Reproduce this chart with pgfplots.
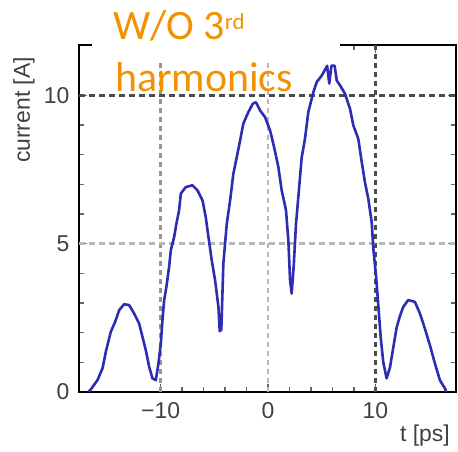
\documentclass[border=0pt]{standalone}
\usepackage{fontspec}
\setmainfont{Liberation Sans}
\newfontfamily\titlefont{Carlito}
\usepackage{pgfplots}
\pgfplotsset{compat=1.18}
\definecolor{labelgray}{HTML}{404040}
\definecolor{curveblue}{RGB}{45,45,180}
\definecolor{titleorange}{HTML}{F39200}
\pgfplotstableread{
x y
-16.75 0.00
-16.49 0.09
-15.88 0.40
-15.41 0.80
-15.10 1.36
-14.64 2.03
-14.23 2.37
-13.86 2.76
-13.40 2.96
-12.93 2.93
-12.47 2.65
-12.00 2.31
-11.69 1.86
-11.38 1.41
-11.07 0.85
-10.76 0.46
-10.45 0.40
-10.20 0.97
-9.98 1.64
-9.83 2.42
-9.67 3.10
-9.46 3.55
-9.21 4.22
-9.05 4.78
-8.74 5.23
-8.53 5.68
-8.28 6.13
-8.12 6.69
-7.66 6.91
-7.04 6.97
-6.57 6.80
-6.10 6.46
-5.80 5.90
-5.55 5.23
-5.24 4.44
-4.93 3.77
-4.62 2.87
-4.50 2.05
-4.35 2.10
-4.16 4.33
-3.84 5.68
-3.53 6.46
-3.23 7.36
-2.91 7.92
-2.60 8.48
-2.30 9.05
-1.83 9.44
-1.42 9.72
-1.12 9.77
-0.74 9.49
-0.28 9.27
0.19 8.82
0.56 8.26
0.96 7.59
1.27 6.80
1.67 6.13
1.89 5.12
2.05 3.77
2.20 3.32
2.40 4.30
2.60 5.65
2.85 6.70
3.13 7.90
3.44 8.54
3.75 9.44
4.22 10.11
4.53 10.45
5.00 10.67
5.20 10.80
5.50 11.00
5.70 10.40
5.90 11.00
6.20 11.00
6.40 10.50
6.70 10.34
7.16 10.06
7.63 9.55
7.94 8.99
8.40 8.54
8.72 7.76
9.02 7.08
9.33 6.52
9.65 5.73
9.80 4.84
10.05 3.94
10.26 2.95
10.50 1.80
10.73 1.00
11.04 0.46
11.35 0.82
11.66 1.50
11.97 2.17
12.28 2.56
12.59 2.87
13.05 3.10
13.67 3.04
14.14 2.65
14.60 2.14
15.07 1.58
15.53 0.97
16.00 0.40
16.47 0.12
16.60 0.00
}\currentdata
\begin{document}
\begin{tikzpicture}
\path[use as bounding box] (-79bp,-60bp) rectangle (379bp,392bp);
\begin{axis}[
  at={(0,0)}, anchor=south west,
  width=377bp, height=347bp, scale only axis,
  xmin=-17.6, xmax=17.5, ymin=0, ymax=11.7,
  xtick={-10,0,10}, xticklabels={−10,0,10},
  ytick={0,5,10}, yticklabels={0,5,10},
  minor x tick num=4, minor y tick num=4,
  tick align=inside,
  major tick length=8bp, minor tick length=5bp,
  every tick/.style={black!60, line width=1.5bp},
  axis line style={line width=2.5bp, black},
  tick label style={font=\fontsize{23}{23}\selectfont, text=labelgray},
  xticklabel style={yshift=-7bp},
  yticklabel style={xshift=-6bp},
]
\draw[black!42, line width=2.6bp, dash pattern=on 5bp off 4bp] (axis cs:-10,0) -- (axis cs:-10,11.7);
\draw[black!28, line width=2.6bp, dash pattern=on 5bp off 4bp] (axis cs:0,0) -- (axis cs:0,11.7);
\draw[black!70, line width=2.6bp, dash pattern=on 5bp off 4bp] (axis cs:10,0) -- (axis cs:10,11.7);
\draw[black!28, line width=2.6bp, dash pattern=on 6bp off 4bp] (axis cs:-17.6,5) -- (axis cs:17.5,5);
\draw[black!70, line width=2.6bp, dash pattern=on 6bp off 4bp] (axis cs:-17.6,10) -- (axis cs:17.5,10);
\addplot[curveblue, line width=2.6bp, line join=round] table[x=x,y=y] {\currentdata};
\end{axis}
\fill[white] (13bp,331bp) rectangle (261bp,392bp);
\node[anchor=base west, inner sep=0, text=titleorange, font=\titlefont\fontsize{42}{42}\selectfont] at (34bp,352bp) {W/O 3\raisebox{10bp}{\fontsize{23}{23}\selectfont rd}};
\node[anchor=base west, inner sep=0, text=titleorange, font=\titlefont\fontsize{42}{42}\selectfont] at (36bp,300bp) {harmonics};
\node[rotate=90, inner sep=0, text=labelgray, font=\fontsize{23}{23}\selectfont] at (-55bp,282bp) {current [A]};
\node[anchor=north east, inner sep=0, text=labelgray, font=\fontsize{23}{23}\selectfont] at (371bp,-33bp) {t [ps]};
\end{tikzpicture}
\end{document}
